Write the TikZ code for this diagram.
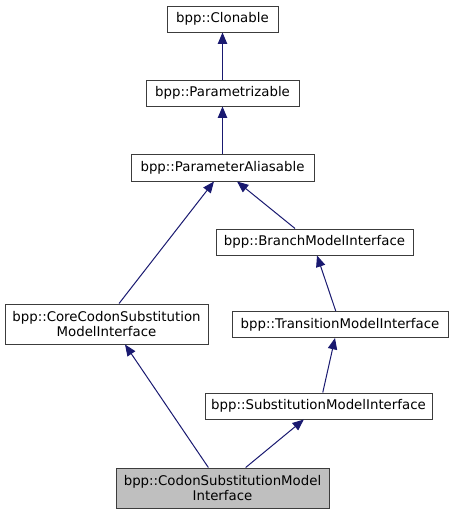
\documentclass[tikz,border=0pt]{standalone}
\usepackage{fontspec}
\setmainfont{DejaVu Sans}
\usetikzlibrary{arrows.meta}
\definecolor{edgeblue}{RGB}{25,25,112}
\definecolor{boxline}{RGB}{60,60,60}
\definecolor{boxfill}{RGB}{191,191,191}
\tikzset{
  cls/.style={draw=boxline, line width=0.75pt, fill=white, inner sep=0pt, align=center,
    font=\fontsize{10}{11.5}\selectfont},
  inh/.style={draw=edgeblue, line width=0.75pt, -{Triangle[length=8.5pt,width=7pt]}},
}
\begin{document}
\begin{tikzpicture}[x=0.75pt,y=-0.75pt]
\useasboundingbox (0,0) rectangle (453,515);
\node[cls, minimum width=83.25pt, minimum height=19.5pt] (clon) at (222.5,19) {bpp::Clonable};
\node[cls, minimum width=114.75pt, minimum height=19.5pt] (param) at (222.5,93) {bpp::Parametrizable};
\node[cls, minimum width=137.25pt, minimum height=20.25pt] (alias) at (222.5,167.5) {bpp::ParameterAliasable};
\node[cls, minimum width=147.75pt, minimum height=19.5pt] (branch) at (314.5,242) {bpp::BranchModelInterface};
\node[cls, minimum width=152.25pt, minimum height=30pt] (core) at (106.5,324) {bpp::CoreCodonSubstitution\\ModelInterface};
\node[cls, minimum width=162pt, minimum height=19.5pt] (trans) at (340,324.5) {bpp::TransitionModelInterface};
\node[cls, minimum width=170.25pt, minimum height=19.5pt] (subst) at (318.5,406) {bpp::SubstitutionModelInterface};
\node[cls, fill=boxfill, minimum width=159.75pt, minimum height=30pt] (codon) at (222.5,488) {bpp::CodonSubstitutionModel\\Interface};

\draw[inh] (param.north) -- (clon.south);
\draw[inh] (alias.north) -- (param.south);
\draw[inh] ([xshift=9.4pt]core.north) -- ([xshift=-6.4pt]alias.south);
\draw[inh] ([xshift=-14.6pt]branch.north) -- ([xshift=10.9pt]alias.south);
\draw[inh] ([xshift=-3.2pt]trans.north) -- ([xshift=1.9pt]branch.south);
\draw[inh] ([xshift=3.2pt]subst.north) -- ([xshift=-3.75pt]trans.south);
\draw[inh] ([xshift=-10.6pt]codon.north) -- ([xshift=13.9pt]core.south);
\draw[inh] ([xshift=17.4pt]codon.north) -- ([xshift=-11pt]subst.south);
\end{tikzpicture}
\end{document}
